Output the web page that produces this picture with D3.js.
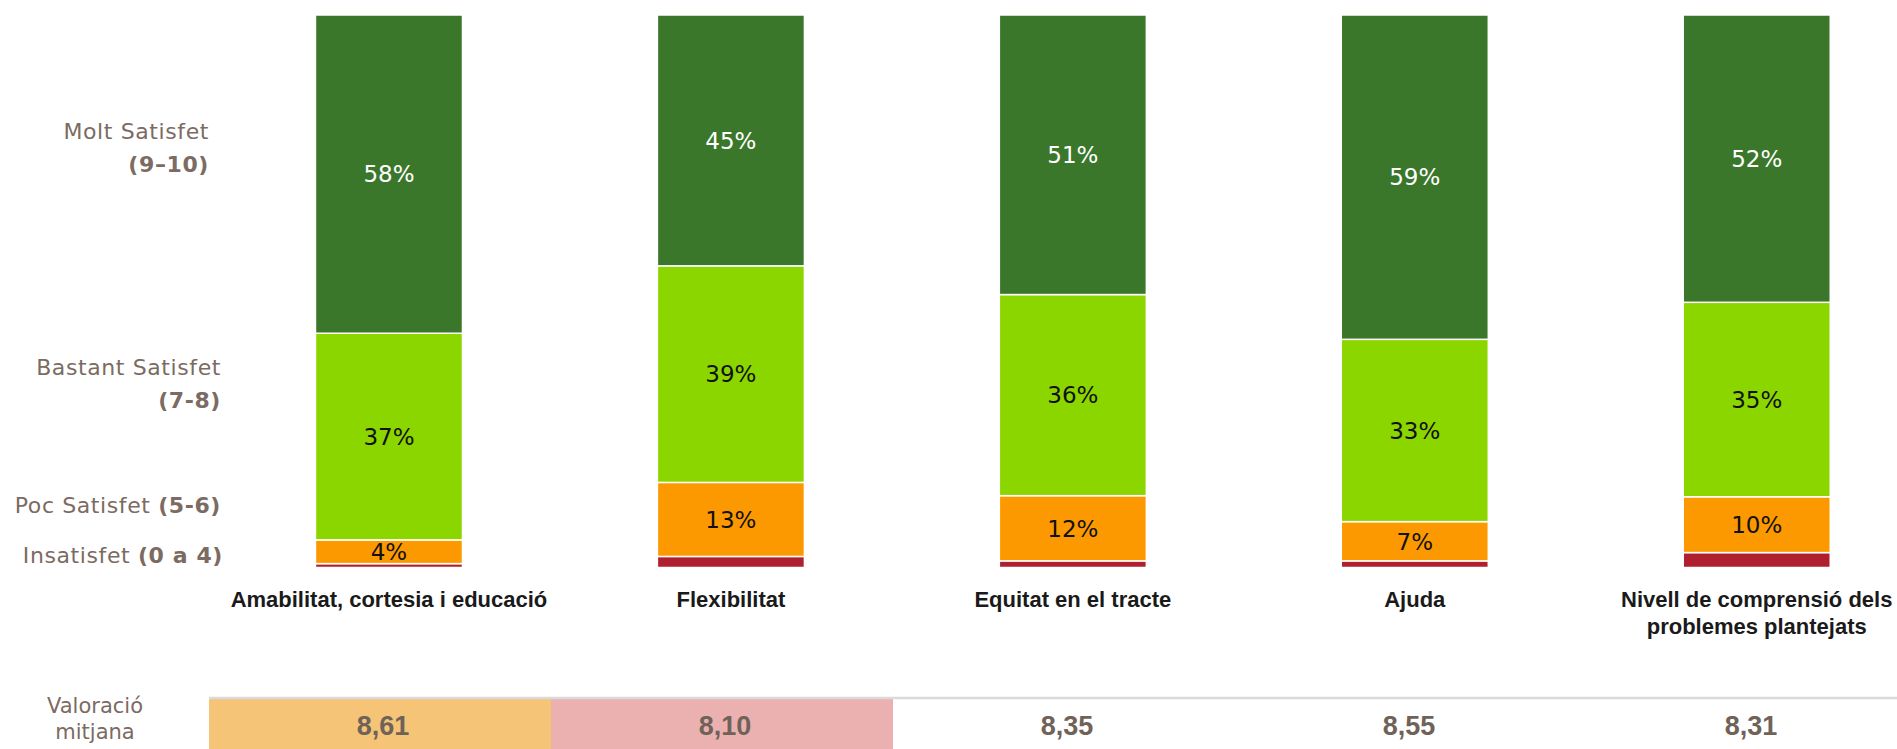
<!DOCTYPE html>
<html>
<head>
<meta charset="utf-8">
<script src="https://cdn.jsdelivr.net/npm/d3@7/dist/d3.min.js"></script>
<style>
  body { margin: 0; background: #fff; }
  svg { display: block; }
  .seg-label { font-family: "DejaVu Sans", sans-serif; font-size: 23px; }
  .legend { font-family: "DejaVu Sans", sans-serif; font-size: 22px; letter-spacing: 0.6px; fill: #7b6b62; }
  .legend .b { font-weight: bold; }
  .side { font-family: "DejaVu Sans", sans-serif; font-size: 21px; fill: #7b6b62; }
  .cat { font-family: "Liberation Sans Narrow", "Liberation Sans", sans-serif; font-size: 22px; font-weight: bold; fill: #1a1a1a; }
  .val { font-family: "Liberation Sans Narrow", "Liberation Sans", sans-serif; font-size: 27px; font-weight: bold; fill: #6f6259; }
</style>
</head>
<body>
<div id="chart"></div>
<script>
// data
const categories = ["Amabilitat, cortesia i educació", "Flexibilitat", "Equitat en el tracte", "Ajuda", "Nivell de comprensió dels\nproblemes plantejats"]
const molt = [57.6, 45.4, 50.6, 58.7, 52.0]
const bastant = [37.4, 39.2, 36.4, 33.0, 35.2]
const poc = [4.3, 13.4, 11.8, 7.1, 10.1]
const insatisfet = [0.7, 2.0, 1.2, 1.2, 2.7]
const valoracio = ["8,61", "8,10", "8,35", "8,55", "8,31"]
const seriesNames = ["Molt Satisfet", "Bastant Satisfet", "Poc Satisfet", "Insatisfet"]

const width = 1897, height = 749
const colors = { molt: '#3b772b', bastant: '#8cd600', poc: '#fd9900', insatisfet: '#b01f2e' }
const textColors = { molt: '#fff', bastant: '#111', poc: '#111', insatisfet: '#111' }
const cellColors = ['#f5c476', '#ebb1b1', '#fff', '#fff', '#fff']

const rows = categories.map((c, i) => ({
  cat: c, molt: molt[i], bastant: bastant[i], poc: poc[i], insatisfet: insatisfet[i]
}))

// stack from the bottom: insatisfet first
const keys = ['insatisfet', 'poc', 'bastant', 'molt']
const stacked = d3.stack().keys(keys)(rows)

const svg = d3.select('#chart').append('svg')
  .attr('width', width)
  .attr('height', height)

const x = d3.scaleBand()
  .domain(categories)
  .range([218, 1927.7])
  .paddingInner(0.57)
  .paddingOuter(0.285)

const y = d3.scaleLinear()
  .domain([0, 100])
  .range([567.5, 15])

const layer = svg.selectAll('g.layer')
  .data(stacked)
  .enter().append('g')
    .attr('class', 'layer')

layer.selectAll('rect')
  .data(s => s.map(d => ({ key: s.key, d })))
  .enter().append('rect')
    .attr('x', p => x(p.d.data.cat))
    .attr('width', x.bandwidth())
    .attr('y', p => y(p.d[1]))
    .attr('height', p => y(p.d[0]) - y(p.d[1]))
    .style('fill', p => colors[p.key])
    .style('stroke', '#fff')
    .style('stroke-width', 1.5)

// percentage labels (not for the thin red segment)
layer.filter(s => s.key != 'insatisfet').selectAll('text')
  .data(s => s.map(d => ({ key: s.key, d })))
  .enter().append('text')
    .attr('class', 'seg-label')
    .attr('x', p => x(p.d.data.cat) + x.bandwidth() / 2)
    .attr('y', p => (y(p.d[0]) + y(p.d[1])) / 2)
    .attr('dy', '0.36em')
    .attr('text-anchor', 'middle')
    .style('fill', p => textColors[p.key])
    .text(p => Math.round(p.d.data[p.key]) + '%')

// category labels under the bars
const catLabel = svg.selectAll('text.cat')
  .data(categories)
  .enter().append('text')
    .attr('class', 'cat')
    .attr('text-anchor', 'middle')
    .attr('x', d => x(d) + x.bandwidth() / 2)
    .attr('y', 607)

catLabel.selectAll('tspan')
  .data(d => d.split('\n'))
  .enter().append('tspan')
    .attr('x', function () { return d3.select(this.parentNode).attr('x') })
    .attr('dy', (d, i) => i ? 27 : 0)
    .text(d => d)

// legend on the left
const legend = [
  { name: seriesNames[0], range: '(9–10)', x: 209, y: 139, split: true },
  { name: seriesNames[1], range: '(7-8)', x: 221, y: 375, split: true },
  { name: seriesNames[2], range: '(5-6)', x: 221, y: 513, split: false },
  { name: seriesNames[3], range: '(0 a 4)', x: 223, y: 563, split: false }
]

legend.forEach(l => {
  if (l.split) {
    svg.append('text').attr('class', 'legend').attr('text-anchor', 'end')
      .attr('x', l.x).attr('y', l.y).text(l.name)
    svg.append('text').attr('class', 'legend').attr('text-anchor', 'end')
      .attr('x', l.x).attr('y', l.y + 33)
      .append('tspan').attr('class', 'b').text(l.range)
  } else {
    const t = svg.append('text').attr('class', 'legend').attr('text-anchor', 'end')
      .attr('x', l.x).attr('y', l.y)
    t.append('tspan').text(l.name + ' ')
    t.append('tspan').attr('class', 'b').text(l.range)
  }
})

// bottom table: mean rating
const col = d3.scaleBand()
  .domain(categories)
  .range([209, 209 + 5 * 342])

const tableTop = 698

svg.append('text').attr('class', 'side').attr('text-anchor', 'middle')
  .attr('x', 95).attr('y', 713).text('Valoració')
svg.append('text').attr('class', 'side').attr('text-anchor', 'middle')
  .attr('x', 95).attr('y', 739).text('mitjana')

svg.selectAll('rect.cell')
  .data(categories)
  .enter().append('rect')
    .attr('class', 'cell')
    .attr('x', d => col(d))
    .attr('y', tableTop + 1)
    .attr('width', col.bandwidth())
    .attr('height', height - tableTop)
    .style('fill', (d, i) => cellColors[i])

svg.append('line')
  .attr('x1', col.range()[0]).attr('x2', width)
  .attr('y1', tableTop).attr('y2', tableTop)
  .style('stroke', '#dadada')
  .style('stroke-width', 2.5)

svg.selectAll('text.val')
  .data(categories)
  .enter().append('text')
    .attr('class', 'val')
    .attr('text-anchor', 'middle')
    .attr('x', d => col(d) + col.bandwidth() / 2 + 3)
    .attr('y', 735)
    .text((d, i) => valoracio[i])
</script>
</body>
</html>
